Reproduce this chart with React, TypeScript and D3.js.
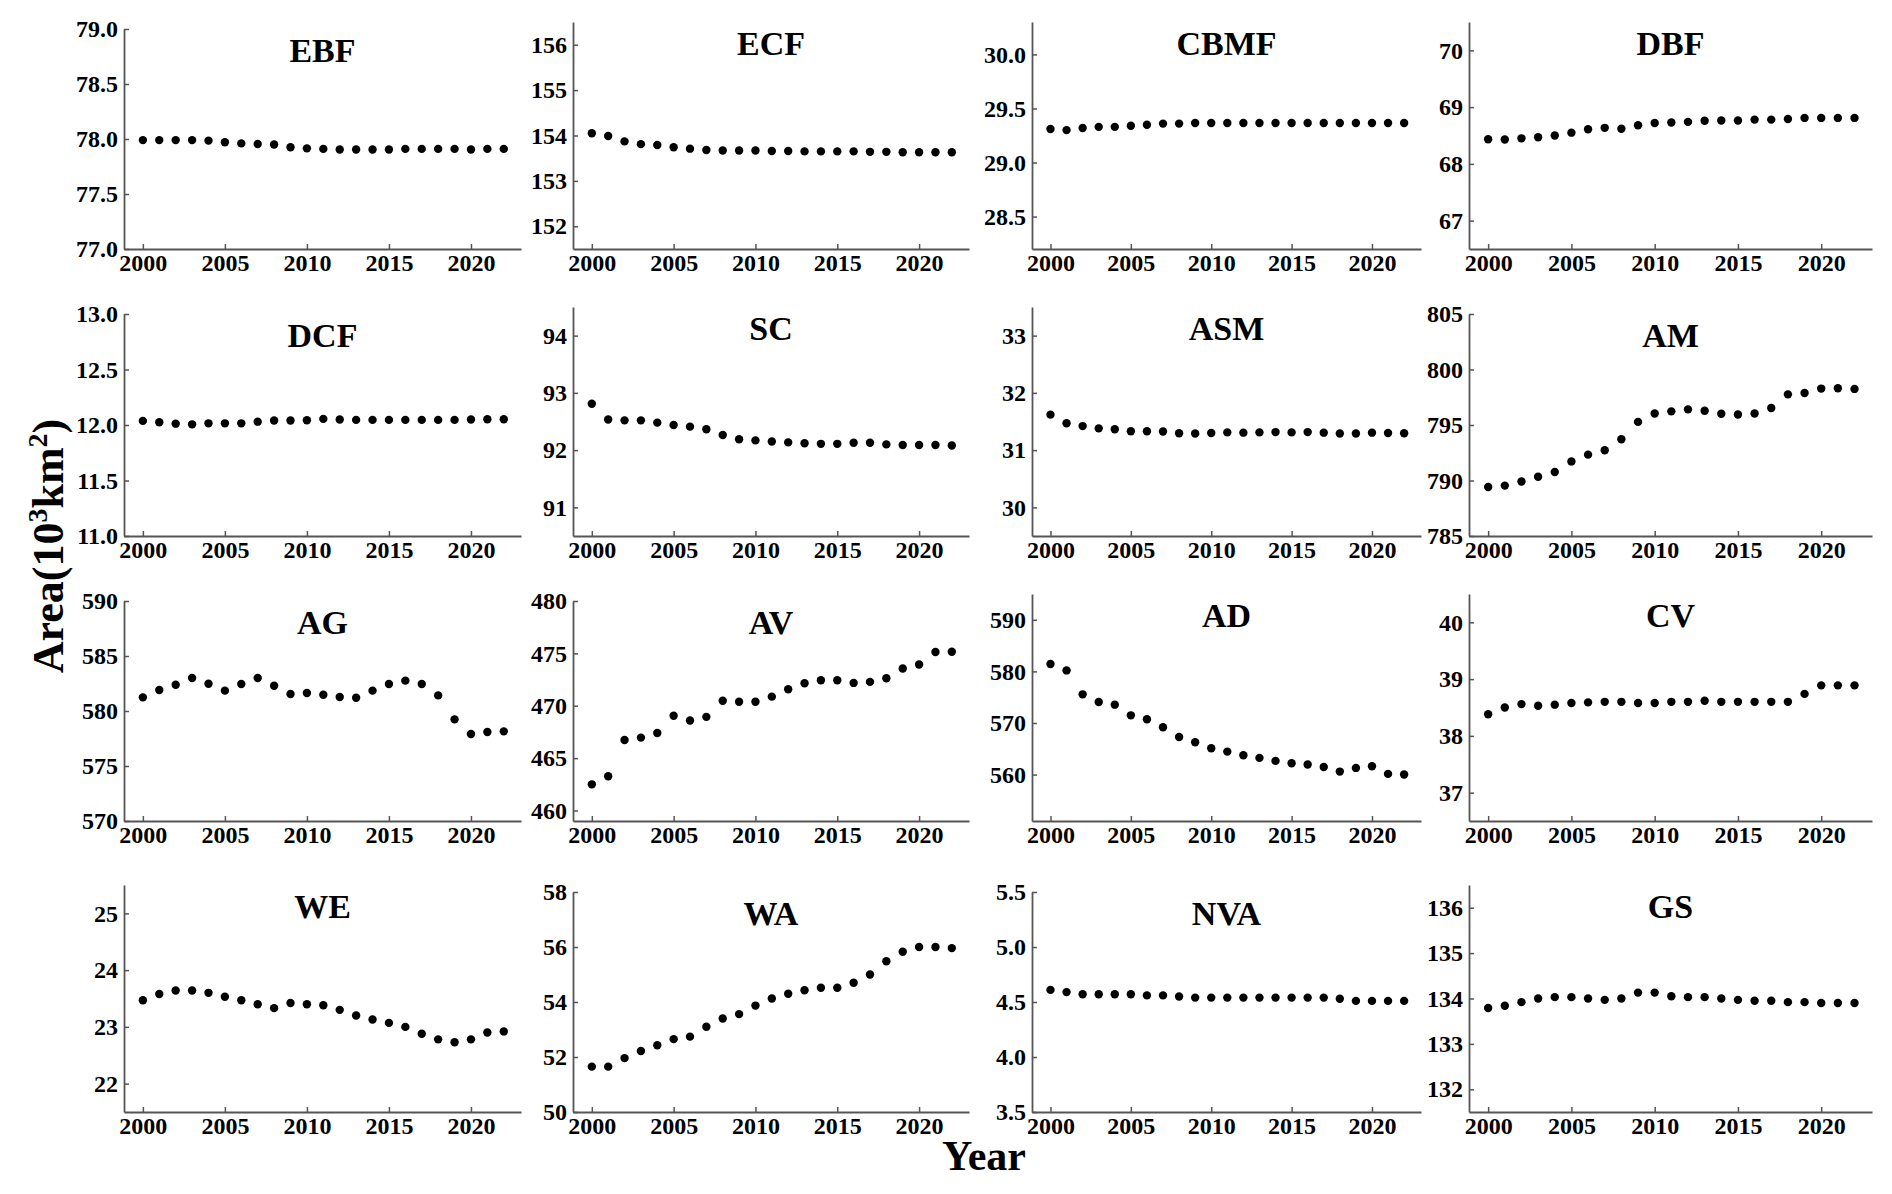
import { useEffect, useRef } from 'react';
import * as d3 from 'd3';

// years on the x axis
const years = d3.range(2000, 2023);
const yearTicks = [2000, 2005, 2010, 2015, 2020];

// area values per land cover class (10^3 km2)
const EBF = [77.99, 77.99, 77.99, 77.99, 77.985, 77.97, 77.96, 77.955, 77.95, 77.925, 77.915, 77.91, 77.905, 77.905, 77.905, 77.905, 77.91, 77.91, 77.91, 77.91, 77.905, 77.91, 77.91];
const ECF = [154.05, 153.99, 153.87, 153.81, 153.79, 153.74, 153.71, 153.68, 153.67, 153.67, 153.67, 153.66, 153.66, 153.65, 153.65, 153.65, 153.65, 153.64, 153.64, 153.63, 153.63, 153.63, 153.63];
const CBMF = [29.31, 29.30, 29.32, 29.33, 29.33, 29.34, 29.35, 29.36, 29.36, 29.365, 29.365, 29.365, 29.365, 29.365, 29.365, 29.365, 29.365, 29.365, 29.365, 29.365, 29.365, 29.365, 29.365];
const DBF = [68.435, 68.43, 68.45, 68.47, 68.5, 68.55, 68.61, 68.635, 68.62, 68.68, 68.72, 68.73, 68.74, 68.76, 68.765, 68.765, 68.78, 68.78, 68.79, 68.81, 68.81, 68.81, 68.81];
const DCF = [12.037, 12.025, 12.012, 12.006, 12.015, 12.015, 12.015, 12.03, 12.04, 12.04, 12.043, 12.055, 12.05, 12.046, 12.046, 12.046, 12.046, 12.046, 12.046, 12.046, 12.05, 12.052, 12.052];
const SC = [92.81, 92.535, 92.52, 92.52, 92.48, 92.44, 92.41, 92.365, 92.265, 92.19, 92.17, 92.15, 92.135, 92.12, 92.11, 92.11, 92.13, 92.13, 92.1, 92.09, 92.09, 92.09, 92.08];
const ASM = [31.62, 31.47, 31.42, 31.38, 31.365, 31.33, 31.33, 31.325, 31.295, 31.29, 31.3, 31.31, 31.305, 31.31, 31.315, 31.31, 31.315, 31.305, 31.29, 31.29, 31.305, 31.3, 31.295];
const AM = [789.42, 789.54, 789.91, 790.34, 790.77, 791.72, 792.33, 792.73, 793.71, 795.28, 796.04, 796.23, 796.41, 796.29, 796.01, 795.95, 796.04, 796.53, 797.76, 797.88, 798.28, 798.31, 798.25];
const AG = [581.24, 581.91, 582.39, 583.0, 582.48, 581.85, 582.45, 583.0, 582.3, 581.55, 581.64, 581.48, 581.27, 581.21, 581.85, 582.45, 582.76, 582.45, 581.42, 579.24, 577.91, 578.09, 578.15];
const AV = [462.5, 463.27, 466.73, 466.96, 467.4, 469.04, 468.59, 468.94, 470.48, 470.38, 470.38, 470.87, 471.57, 472.15, 472.44, 472.44, 472.18, 472.28, 472.63, 473.56, 473.94, 475.13, 475.16];
const AD = [581.42, 580.19, 575.55, 574.06, 573.55, 571.48, 570.71, 569.16, 567.29, 566.26, 565.1, 564.45, 563.74, 563.23, 562.65, 562.19, 561.94, 561.48, 560.58, 561.29, 561.61, 560.13, 560.0];
const CV = [38.38, 38.5, 38.56, 38.53, 38.55, 38.58, 38.59, 38.6, 38.6, 38.58, 38.58, 38.6, 38.6, 38.62, 38.6, 38.6, 38.6, 38.6, 38.6, 38.74, 38.89, 38.89, 38.89];
const WE = [23.47, 23.58, 23.64, 23.64, 23.6, 23.53, 23.47, 23.4, 23.33, 23.42, 23.4, 23.38, 23.3, 23.2, 23.13, 23.07, 23.0, 22.88, 22.78, 22.73, 22.78, 22.9, 22.92];
const WA = [51.65, 51.65, 51.96, 52.22, 52.43, 52.65, 52.74, 53.1, 53.4, 53.56, 53.87, 54.13, 54.3, 54.43, 54.52, 54.52, 54.7, 55.0, 55.48, 55.83, 56.0, 56.0, 55.96];
const NVA = [4.61, 4.59, 4.57, 4.57, 4.57, 4.57, 4.56, 4.56, 4.55, 4.54, 4.54, 4.54, 4.54, 4.54, 4.54, 4.54, 4.54, 4.54, 4.53, 4.51, 4.51, 4.51, 4.51];
const GS = [133.79, 133.84, 133.92, 134.0, 134.03, 134.03, 134.0, 133.97, 134.0, 134.13, 134.13, 134.05, 134.03, 134.03, 134.0, 133.97, 133.95, 133.95, 133.92, 133.92, 133.9, 133.9, 133.9];

const panels = [
  { name: 'EBF', values: EBF, domain: [77, 79], ticks: [77, 77.5, 78, 78.5, 79], fmt: '.1f' },
  { name: 'ECF', values: ECF, domain: [151.5, 156.5], ticks: [152, 153, 154, 155, 156], fmt: 'd' },
  { name: 'CBMF', values: CBMF, domain: [28.2, 30.3], ticks: [28.5, 29, 29.5, 30], fmt: '.1f' },
  { name: 'DBF', values: DBF, domain: [66.5, 70.5], ticks: [67, 68, 69, 70], fmt: 'd' },
  { name: 'DCF', values: DCF, domain: [11, 13], ticks: [11, 11.5, 12, 12.5, 13], fmt: '.1f' },
  { name: 'SC', values: SC, domain: [90.5, 94.5], ticks: [91, 92, 93, 94], fmt: 'd' },
  { name: 'ASM', values: ASM, domain: [29.5, 33.5], ticks: [30, 31, 32, 33], fmt: 'd' },
  { name: 'AM', values: AM, domain: [785, 805], ticks: [785, 790, 795, 800, 805], fmt: 'd' },
  { name: 'AG', values: AG, domain: [570, 590], ticks: [570, 575, 580, 585, 590], fmt: 'd' },
  { name: 'AV', values: AV, domain: [459, 480], ticks: [460, 465, 470, 475, 480], fmt: 'd' },
  { name: 'AD', values: AD, domain: [551, 595], ticks: [560, 570, 580, 590], fmt: 'd' },
  { name: 'CV', values: CV, domain: [36.5, 40.5], ticks: [37, 38, 39, 40], fmt: 'd' },
  { name: 'WE', values: WE, domain: [21.5, 25.5], ticks: [22, 23, 24, 25], fmt: 'd' },
  { name: 'WA', values: WA, domain: [50, 58], ticks: [50, 52, 54, 56, 58], fmt: 'd' },
  { name: 'NVA', values: NVA, domain: [3.5, 5.5], ticks: [3.5, 4, 4.5, 5, 5.5], fmt: '.1f' },
  { name: 'GS', values: GS, domain: [131.5, 136.5], ticks: [132, 133, 134, 135, 136], fmt: 'd' },
];

const W = 1892;
const H = 1194;
const colLeft = [124, 573, 1032, 1469];
const colRight = [521, 969, 1421, 1872];
const rowTop = [22, 307, 594, 885];
const rowBottom = [249, 536, 821, 1112];
const font = "'Liberation Serif', 'Times New Roman', serif";
const axisColor = '#555';

const App = () => {
  const svgRef = useRef(null);

  useEffect(() => {
    const svg = d3.select(svgRef.current);
    svg.selectAll('*').remove();

    svg.append('rect').attr('width', W).attr('height', H).attr('fill', '#fff');

    panels.forEach((p, i) => {
      const col = i % 4;
      const row = Math.floor(i / 4);
      // panels whose top limit is itself a tick sit a little lower
      const inset = p.ticks[p.ticks.length - 1] === p.domain[1] ? 7 : 0;
      const top = rowTop[row] + inset;
      const bottom = rowBottom[row];

      const x = d3.scaleLinear().domain([1998.85, 2023.05]).range([colLeft[col], colRight[col]]);
      const y = d3.scaleLinear().domain(p.domain).range([bottom, top]);

      const g = svg.append('g');

      const xAxis = g.append('g')
        .attr('transform', `translate(0,${bottom})`)
        .call(d3.axisBottom(x).tickValues(yearTicks).tickFormat(d3.format('d')).tickSize(-5).tickSizeOuter(0).tickPadding(5));

      const yAxis = g.append('g')
        .attr('transform', `translate(${colLeft[col]},0)`)
        .call(d3.axisLeft(y).tickValues(p.ticks).tickFormat(d3.format(p.fmt)).tickSize(-5).tickSizeOuter(0).tickPadding(6));

      [xAxis, yAxis].forEach(a => {
        a.attr('font-family', font).attr('font-size', 24).attr('font-weight', 'bold');
        a.select('.domain').attr('stroke', axisColor).attr('stroke-width', 1.8);
        a.selectAll('.tick line').attr('stroke', axisColor).attr('stroke-width', 1.5);
        a.selectAll('.tick text').attr('fill', '#000');
      });

      g.append('text')
        .attr('x', (colLeft[col] + colRight[col]) / 2)
        .attr('y', top + 33)
        .attr('text-anchor', 'middle')
        .attr('font-family', font)
        .attr('font-weight', 'bold')
        .attr('font-size', 34)
        .text(p.name);

      g.selectAll('.dot')
        .data(p.values)
        .enter()
        .append('circle')
        .attr('class', 'dot')
        .attr('cx', (d, j) => x(years[j]))
        .attr('cy', d => y(d))
        .attr('r', 4.2)
        .attr('fill', '#000');
    });

    // shared axis titles
    svg.append('text')
      .attr('x', 984)
      .attr('y', 1170)
      .attr('text-anchor', 'middle')
      .attr('font-family', font)
      .attr('font-weight', 'bold')
      .attr('font-size', 42)
      .text('Year');

    const yl = svg.append('text')
      .attr('transform', 'translate(63,546) rotate(-90)')
      .attr('text-anchor', 'middle')
      .attr('font-family', font)
      .attr('font-weight', 'bold')
      .attr('font-size', 44);
    yl.append('tspan').text('Area(10');
    yl.append('tspan').attr('font-size', 28).attr('dy', -16).text('3');
    yl.append('tspan').attr('dy', 16).text('km');
    yl.append('tspan').attr('font-size', 28).attr('dy', -16).text('2');
    yl.append('tspan').attr('dy', 16).text(')');
  }, []);

  return (
    <svg ref={svgRef} width={W} height={H} style={{ position: 'absolute', left: 0, top: 0 }}></svg>
  );
};

export default App;
